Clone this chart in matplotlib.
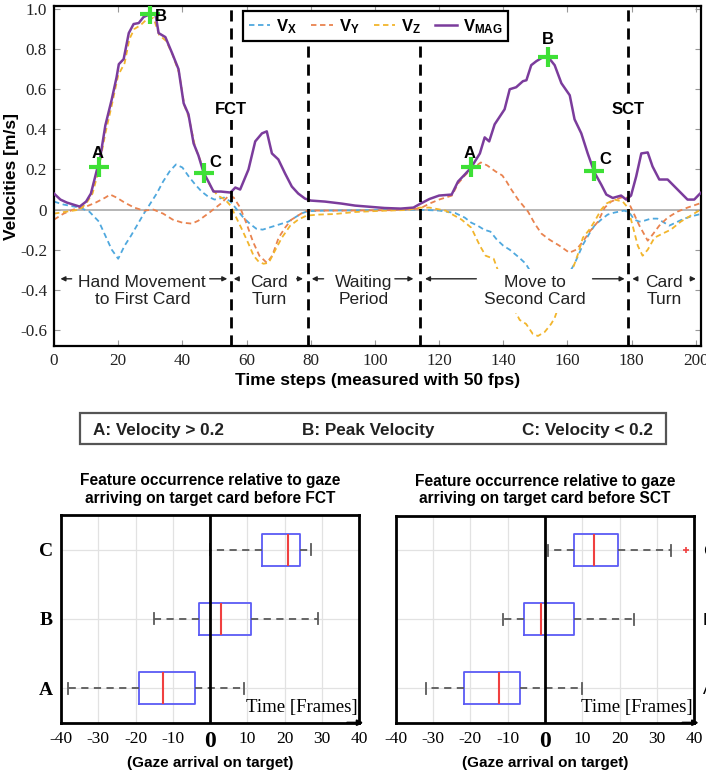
import matplotlib
matplotlib.use('Agg')
import matplotlib.pyplot as plt
from matplotlib.patches import Rectangle

plt.rcParams['font.family'] = ['Liberation Sans', 'DejaVu Sans']
plt.rcParams['mathtext.fontset'] = 'custom'
plt.rcParams['mathtext.bf'] = 'Liberation Sans:bold'
plt.rcParams['mathtext.rm'] = 'Liberation Sans'

# velocity traces (time step, m/s)
t_mag = [0, 2, 4, 6, 8, 10, 11.5, 13.4, 14, 16, 18, 19.5, 20.2, 21.7, 23.3, 24.8, 26.4, 27.9,
         30, 31.6, 32.6, 34.7, 36.8, 38.8, 40.4, 41.9, 43.5, 45, 46.6, 48.1, 49.7, 52, 55, 56.5,
         58, 60.6, 62.7, 64.8, 66.3, 67.9, 69.9, 72, 74.1, 76.1, 78.2, 80, 84.4, 89.6, 93.8,
         103, 108, 112, 114, 117, 120, 123.9, 125.9, 128, 130, 132.7, 134.2, 135.6, 137.3,
         140.4, 142, 144, 146.1, 147.2, 148.7, 150.3, 152.9, 154, 156, 158.1, 160.7, 162.2,
         164.3, 166.3, 168.4, 170.5, 172.1, 174.1, 176.7, 178.3, 179.8, 181.4, 183, 185, 186.5,
         188.6, 191.2, 194.3, 197.4, 199.5, 201, 202]
v_mag = [0.08, 0.05, 0.035, 0.025, 0.015, 0.04, 0.08, 0.2, 0.22, 0.42, 0.55, 0.66, 0.725, 0.75,
         0.88, 0.925, 0.93, 0.96, 0.975, 0.975, 0.88, 0.86, 0.78, 0.70, 0.53, 0.475, 0.33, 0.27,
         0.185, 0.14, 0.09, 0.09, 0.085, 0.11, 0.10, 0.2, 0.34, 0.38, 0.39, 0.28, 0.25, 0.18,
         0.115, 0.08, 0.055, 0.045, 0.04, 0.03, 0.02, 0.008, 0.005, 0.01, 0.028, 0.053, 0.07,
         0.075, 0.14, 0.175, 0.21, 0.28, 0.36, 0.34, 0.425, 0.5, 0.6, 0.61, 0.64, 0.645, 0.72,
         0.74, 0.765, 0.76, 0.72, 0.63, 0.57, 0.45, 0.38, 0.28, 0.185, 0.125, 0.075, 0.058, 0.07,
         0.05, 0.07, 0.165, 0.28, 0.285, 0.215, 0.15, 0.15, 0.1, 0.05, 0.05, 0.075, 0.09]

t_x = [0, 3, 8, 11, 14, 16, 18, 20, 22, 24, 26, 28, 30, 32, 34, 36, 38, 40, 42, 44, 46, 48, 50,
       53, 55, 57, 59, 61, 63, 65, 67, 69, 71, 73, 75, 77, 79, 85, 100, 113, 120, 125, 128, 130,
       132, 134, 136, 138, 140, 142, 145, 147, 150, 154, 158, 160, 162.2, 163.3, 164.8, 166.8,
       168.4, 170.5, 172.5, 174.6, 177.7, 179.3, 180.8, 182.4, 184, 186, 188, 189.6, 191.7,
       193.7, 196.3, 199.5, 202]
v_x = [0.04, 0.025, 0.01, -0.01, -0.06, -0.13, -0.2, -0.245, -0.18, -0.13, -0.075, -0.02, 0.03,
       0.08, 0.14, 0.19, 0.225, 0.21, 0.165, 0.125, 0.09, 0.065, 0.05, 0.06, 0.04, 0.0, -0.04,
       -0.07, -0.095, -0.1, -0.09, -0.08, -0.07, -0.06, -0.04, -0.02, -0.008, -0.005, -0.003,
       0.0, -0.005, -0.017, -0.04, -0.065, -0.08, -0.1, -0.11, -0.15, -0.18, -0.2, -0.24, -0.27,
       -0.35, -0.42, -0.4, -0.33, -0.27, -0.23, -0.175, -0.12, -0.08, -0.05, -0.025, -0.015,
       -0.005, -0.015, -0.05, -0.06, -0.055, -0.045, -0.045, -0.06, -0.08, -0.065, -0.045,
       -0.03, -0.02]

t_y = [0, 3, 6, 10, 13, 16, 17.5, 19.5, 22, 25, 28, 31, 34, 37, 40, 43, 45, 48, 50, 52, 54.5,
       56, 58, 60, 62, 64, 66.3, 68, 70, 72, 74, 77, 79, 90, 105, 114, 117, 120, 124, 125.9,
       128, 130, 133, 135, 137.6, 139.7, 141, 142.5, 144.6, 147.7, 149.8, 151.9, 154.4, 157.5,
       160.6, 162.7, 164.8, 166.9, 169.5, 171.6, 173.6, 176.7, 178.3, 179.8, 182.4, 185, 186.5,
       188.6, 191.2, 194.3, 197.4, 202]
v_y = [-0.05, -0.02, 0.0, 0.015, 0.035, 0.06, 0.075, 0.06, 0.035, 0.01, -0.005, 0.0, -0.02,
       -0.05, -0.065, -0.07, -0.055, -0.02, 0.005, 0.03, 0.07, 0.06, 0.01, -0.07, -0.16, -0.23,
       -0.265, -0.23, -0.14, -0.09, -0.05, -0.02, -0.005, -0.005, -0.003, 0.005, 0.03, 0.05,
       0.07, 0.13, 0.17, 0.2, 0.235, 0.22, 0.19, 0.17, 0.14, 0.1, 0.05, -0.01, -0.07, -0.12,
       -0.15, -0.18, -0.215, -0.2, -0.16, -0.11, -0.06, 0.01, 0.04, 0.06, 0.06, 0.01, -0.08,
       -0.155, -0.125, -0.08, -0.04, -0.01, 0.01, 0.035]

t_z = [0, 4, 8, 10, 12, 13.5, 16, 18, 20, 22, 23.5, 25, 27, 29, 31, 32.8, 35, 37, 39, 40.6, 42,
       44, 45.5, 47, 49, 51, 53.3, 55, 56.5, 58.6, 60.6, 62.2, 63.8, 65.3, 66.9, 69, 71, 73.6,
       76.1, 78.7, 82.3, 87.5, 93.8, 102, 110, 114, 117, 122, 127, 130, 132.7, 134.5, 137, 141,
       145.1, 147.1, 149.2, 150.8, 152.9, 154.9, 156, 159, 162.2, 163.3, 164.8, 166.8, 168.4,
       170.5, 172.1, 174.6, 177.2, 178.8, 180.3, 181.9, 183.4, 185, 187.1, 189.6, 192.2, 195.3,
       198.4, 202]
v_z = [-0.02, -0.01, 0.0, 0.03, 0.08, 0.17, 0.38, 0.52, 0.67, 0.73, 0.85, 0.9, 0.92, 0.95,
       0.955, 0.87, 0.84, 0.77, 0.68, 0.52, 0.46, 0.31, 0.25, 0.17, 0.11, 0.07, 0.05, 0.02,
       -0.03, -0.1, -0.17, -0.23, -0.26, -0.27, -0.265, -0.2, -0.14, -0.08, -0.05, -0.03,
       -0.025, -0.022, -0.012, -0.006, -0.002, 0.01, 0.01, -0.005, -0.05, -0.09, -0.18, -0.23,
       -0.245, -0.42, -0.55, -0.57, -0.62, -0.63, -0.61, -0.57, -0.54, -0.4, -0.27, -0.22,
       -0.14, -0.1, -0.06, 0.0, 0.03, 0.05, 0.04, 0.01, -0.08, -0.18, -0.23, -0.2, -0.14,
       -0.12, -0.1, -0.06, -0.03, 0.005]

# feature points on the magnitude curve
feat_names = ['A', 'B', 'C', 'A', 'B', 'C']
feat_t = [14, 30, 46.8, 130, 153.9, 168.4]
feat_v = [0.21, 0.975, 0.18, 0.21, 0.76, 0.19]

# phase boundaries
events = [55, 79, 114, 179]
event_names = {55: 'FCT', 179: 'SCT'}

# boxplot statistics (frames relative to gaze arrival): whislo, q1, med, q3, whishi
feature_labels = ['A', 'B', 'C']
fct_stats = [(-38, -19, -12.5, -4, 9), (-15, -3, 3, 11, 29), (0, 14, 21, 24.2, 27)]
sct_stats = [(-32, -21.6, -12.2, -6.7, 9.8), (-11.2, -5.6, -1.2, 7.7, 23.9),
             (0.9, 7.7, 13, 19.5, 33.7)]
sct_fliers = [[], [], [37.7]]

c_x, c_y, c_z, c_mag = '#4fa8de', '#e9834f', '#f2b52c', '#7b3c9c'
green = '#3ee036'

W, H = 706, 775
fig = plt.figure(figsize=(W / 100, H / 100), dpi=100)


def px_axes(l, t, r, b):
    return fig.add_axes([l / W, 1 - b / H, (r - l) / W, (b - t) / H])


# ---------------- velocity plot ----------------
ax = px_axes(54, 6, 701, 346)
ax.axhline(0, color='#b0b0b0', lw=1.3, zorder=1)
dash = (0, (3, 2))
ax.plot(t_x, v_x, color=c_x, lw=1.3, ls=dash, label=r'$\mathbf{V_X}$', zorder=2)
ax.plot(t_y, v_y, color=c_y, lw=1.3, ls=dash, label=r'$\mathbf{V_Y}$', zorder=2)
ax.plot(t_z, v_z, color=c_z, lw=1.3, ls=dash, label=r'$\mathbf{V_Z}$', zorder=2)
ax.plot(t_mag, v_mag, color=c_mag, lw=1.8, label=r'$\mathbf{V_{MAG}}$', zorder=3)

for x in events:
    ax.axvline(x, color='black', lw=2, ls=(0, (4, 2.5)), zorder=4)
    if x in event_names:
        ax.text(x, 0.5, event_names[x], ha='center', va='center', fontsize=12,
                fontweight='bold', zorder=6,
                bbox=dict(facecolor='white', edgecolor='none', pad=2))

ax.plot(feat_t, feat_v, ls='none', marker='+', ms=15, mew=3, color=green, zorder=7)
offsets = [(-0.5, 0.07, 'center'), (1.5, -0.01, 'left'), (1.5, 0.055, 'left'),
           (-0.5, 0.07, 'center'), (0, 0.09, 'center'), (1.5, 0.06, 'left')]
for name, x, y, (dx, dy, ha) in zip(feat_names, feat_t, feat_v, offsets):
    ax.text(x + dx, y + dy, name, ha=ha, va='center', fontsize=12, fontweight='bold', zorder=7)

# phase labels with arrows pointing to the boundaries
phases = [(27.5, 'Hand Movement\nto First Card', (5.5, 2), (48.5, 54)),
          (67, 'Card\nTurn', (57.6, 56), (75.6, 77.6)),
          (96.5, 'Waiting\nPeriod', (84, 80.3), (106.2, 112)),
          (149.8, 'Move to\nSecond Card', (131.6, 115.6), (167.8, 177.8)),
          (190, 'Card\nTurn', (181.7, 180.2), (198.2, 200)),
          ]
for xc, label, left, right in phases:
    ax.text(xc, -0.405, label, ha='center', va='center', fontsize=12.5, linespacing=1.2,
            color='#222222', zorder=5,
            bbox=dict(facecolor='white', edgecolor='none', boxstyle='square,pad=0.35'))
    for tail, tip in (left, right):
        ax.annotate('', xy=(tip, -0.345), xytext=(tail, -0.345), zorder=6,
                    arrowprops=dict(arrowstyle='-|>', color='#222222', lw=1,
                                    mutation_scale=7, shrinkA=0, shrinkB=0))

ax.set_xlim(0, 201.6)
ax.set_ylim(-0.68, 1.015)
ax.set_xticks(range(0, 201, 20))
ax.set_yticks([-0.6, -0.4, -0.2, 0, 0.2, 0.4, 0.6, 0.8, 1.0])
ax.set_yticklabels(['-0.6', '-0.4', '-0.2', '0', '0.2', '0.4', '0.6', '0.8', '1.0'])
ax.tick_params(direction='in', length=4, color='#999999', top=True, right=True,
               labelsize=12.3, labelcolor='#222222', pad=5)
for lab in ax.get_xticklabels() + ax.get_yticklabels():
    lab.set_family('Liberation Serif')
for s in ax.spines.values():
    s.set_linewidth(1.6)
ax.set_xlabel('Time steps (measured with 50 fps)', fontsize=12.5, fontweight='bold', labelpad=3)
ax.set_ylabel('Velocities [m/s]', fontsize=12.5, fontweight='bold', labelpad=1)

leg = ax.legend(loc='upper left', bbox_to_anchor=(0.292, 0.985), ncol=4, borderaxespad=0,
                fontsize=12, handlelength=1.3, handletextpad=0.35, columnspacing=0.85,
                fancybox=False, framealpha=1, edgecolor='black', borderpad=0.35)
leg.get_frame().set_linewidth(1.6)
leg.set_zorder(8)

# ---------------- feature key ----------------
fig.patches.append(Rectangle((80 / W, 1 - 444 / H), 586 / W, 31.3 / H, transform=fig.transFigure,
                             fill=False, edgecolor='#555555', lw=1.6))
for x, txt in [(93, 'A: Velocity > 0.2'), (301.7, 'B: Peak Velocity'), (521.7, 'C: Velocity < 0.2')]:
    fig.text(x / W, 1 - 430.5 / H, txt, ha='left', va='center', fontsize=12.3, fontweight='bold',
             color='#222222')


# ---------------- feature timing boxplots ----------------
def feature_box(axb, stats, fliers, title, right_labels):
    bx = []
    for (lo, q1, med, q3, hi), fl in zip(stats, fliers):
        bx.append(dict(whislo=lo, q1=q1, med=med, q3=q3, whishi=hi, fliers=fl))
    axb.bxp(bx, positions=[1, 2, 3], widths=0.46, orientation='horizontal', capwidths=0.16,
            boxprops=dict(color='#5b5bf5', lw=1.3),
            medianprops=dict(color='#f04040', lw=1.5),
            whiskerprops=dict(color='#5a5a5a', lw=1.3, ls=(0, (4, 3))),
            capprops=dict(color='#5a5a5a', lw=1.3),
            flierprops=dict(marker='+', markeredgecolor='#f04040', ms=5, mew=1.2))
    axb.axvline(0, color='black', lw=2, zorder=5)
    axb.set_xlim(-40, 40)
    axb.set_ylim(0.5, 3.5)
    axb.set_xticks(range(-40, 41, 10))
    axb.set_xticklabels([str(v) for v in range(-40, 41, 10)])
    axb.set_yticks([1, 2, 3])
    axb.set_yticklabels(feature_labels)
    axb.grid(True, color='#e2e2e2', lw=0.9)
    axb.set_axisbelow(True)
    axb.tick_params(length=0, labelsize=12.5, pad=6)
    for lab in axb.get_xticklabels():
        lab.set_family('Liberation Serif')
        if lab.get_text() == '0':
            lab.set_fontweight('bold')
            lab.set_fontsize(17)
    for lab in axb.get_yticklabels():
        lab.set_family('Liberation Serif')
        lab.set_fontweight('bold')
        lab.set_fontsize(14)
    if right_labels:
        axb.yaxis.tick_right()
        axb.tick_params(axis='y', pad=6)
    for s in axb.spines.values():
        s.set_linewidth(2)
    axb.annotate('', xy=(1.015, 0), xytext=(0.96, 0), xycoords='axes fraction',
                 arrowprops=dict(arrowstyle='-|>', color='black', lw=1.5, mutation_scale=8,
                                 shrinkA=0, shrinkB=0), annotation_clip=False)
    axb.text(39.5, 0.72, 'Time [Frames]', ha='right', va='center', fontsize=13.5,
             family='Liberation Serif')
    axb.set_title(title, fontsize=11.2, fontweight='bold', pad=9, linespacing=1.2)
    axb.set_xlabel('(Gaze arrival on target)', fontsize=11, fontweight='bold', labelpad=3)


ax_fct = px_axes(61, 515, 359, 722.7)
feature_box(ax_fct, fct_stats, [[], [], []],
            'Feature occurrence relative to gaze\narriving on target card before FCT', False)
ax_sct = px_axes(395.7, 515.7, 694.3, 722.7)
feature_box(ax_sct, sct_stats, sct_fliers,
            'Feature occurrence relative to gaze\narriving on target card before SCT', True)

fig.savefig('out.png', dpi=100)
